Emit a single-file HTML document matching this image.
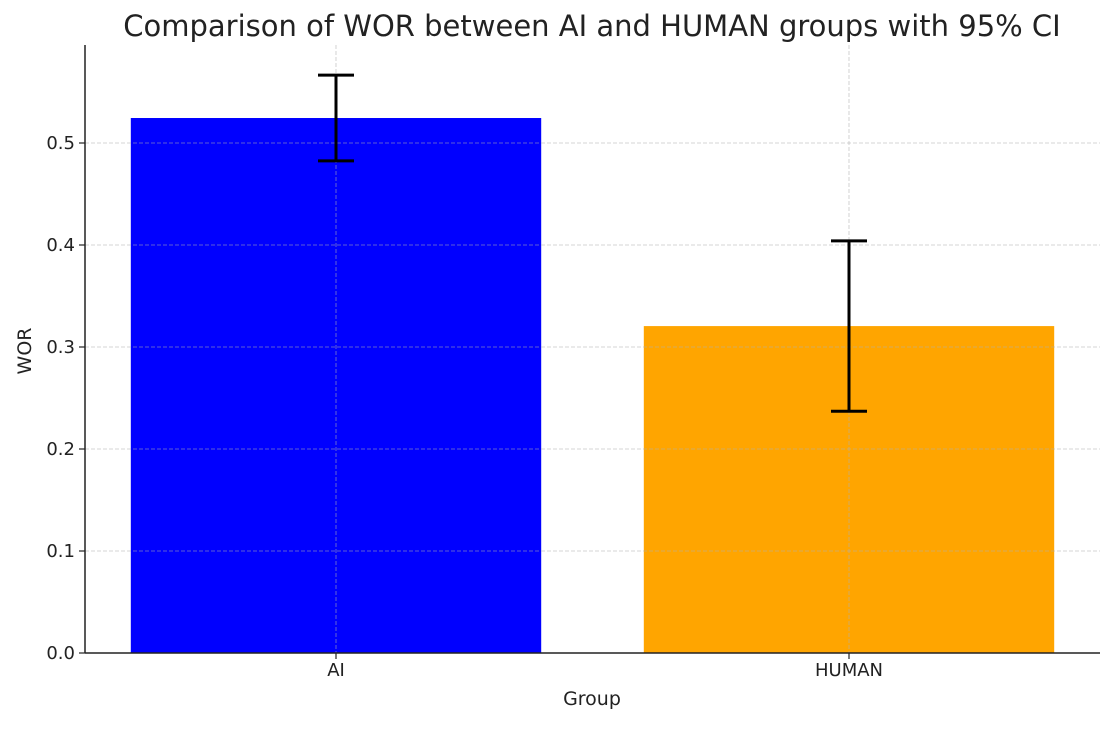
<!DOCTYPE html>
<html><head><meta charset="utf-8"><style>
body{margin:0;background:#fff;}
svg text{font-family:"DejaVu Sans","Liberation Sans",sans-serif;fill:#222;}
</style></head><body>
<svg id="chart" width="1116" height="725" viewBox="0 0 1116 725">
<text x="592" y="36" text-anchor="middle" font-size="29">Comparison of WOR between AI and HUMAN groups with 95% CI</text>
<g id="bars"></g><g id="grid"></g><g id="errs"></g><g id="axes"></g>
<text x="592" y="705" text-anchor="middle" font-size="19">Group</text>
<text transform="translate(31,351) rotate(-90)" text-anchor="middle" font-size="19">WOR</text>
</svg>
<script>
const categories=["AI","HUMAN"];
const values=[0.5245,0.3205];
const ciLow=[0.4825,0.237];
const ciHigh=[0.5665,0.404];
const colors=["#0000ff","#ffa500"];
const yTicks=[0,0.1,0.2,0.3,0.4,0.5];
const yTickLabels=["0.0","0.1","0.2","0.3","0.4","0.5"];
const ns="http://www.w3.org/2000/svg";
const L=85,R=1100,B=653,T=45;
const yMax=(B-T)/1020;
const y=v=>B-v/yMax*(B-T);
const unit=513;
const x=i=>336+i*unit;
function mk(tag,attrs,parent){const e=document.createElementNS(ns,tag);for(const k in attrs)e.setAttribute(k,attrs[k]);document.getElementById(parent).appendChild(e);return e;}
yTicks.forEach((t,i)=>{
 const g=mk("line",{x1:L,x2:R,y1:y(t),y2:y(t),stroke:"#b0b0b0","stroke-opacity":"0.7","stroke-dasharray":"4,2","stroke-width":0.8},"grid");
 
 
 const tk=mk("line",{x1:L-6,x2:L,y1:y(t),y2:y(t),stroke:"#222","stroke-width":1.2},"axes");
 
 
 const tx=mk("text",{x:L-10,y:y(t)+6,"text-anchor":"end","font-size":"18"},"axes");
 tx.textContent=yTickLabels[i];
 
 
});
categories.forEach((c,i)=>{
 const g=mk("line",{x1:x(i),x2:x(i),y1:T,y2:B,stroke:"#b0b0b0","stroke-opacity":"0.7","stroke-dasharray":"4,2","stroke-width":0.8},"grid");
 
 
 const w=0.8*unit;
 const r=mk("rect",{x:x(i)-w/2,y:y(values[i]),width:w,height:B-y(values[i]),fill:colors[i]},"bars");
 
 
 const e1=mk("line",{x1:x(i),x2:x(i),y1:y(ciHigh[i]),y2:y(ciLow[i]),stroke:"#000","stroke-width":3},"errs");
 
 
 [ciHigh[i],ciLow[i]].forEach(v=>{
  const cp=mk("line",{x1:x(i)-18,x2:x(i)+18,y1:y(v),y2:y(v),stroke:"#000","stroke-width":3},"errs");
  
  
 });
 const tk=mk("line",{x1:x(i),x2:x(i),y1:B,y2:B+6,stroke:"#222","stroke-width":1.2},"axes");
 
 
 const tx=mk("text",{x:x(i),y:B+23,"text-anchor":"middle","font-size":"18"},"axes");
 tx.textContent=c;
 
 
});
const ax=mk("line",{x1:L,x2:L,y1:T,y2:B,stroke:"#222","stroke-width":1.5},"axes");


const bx=mk("line",{x1:L,x2:R,y1:B,y2:B,stroke:"#222","stroke-width":1.5},"axes");


</script>
</body></html>
